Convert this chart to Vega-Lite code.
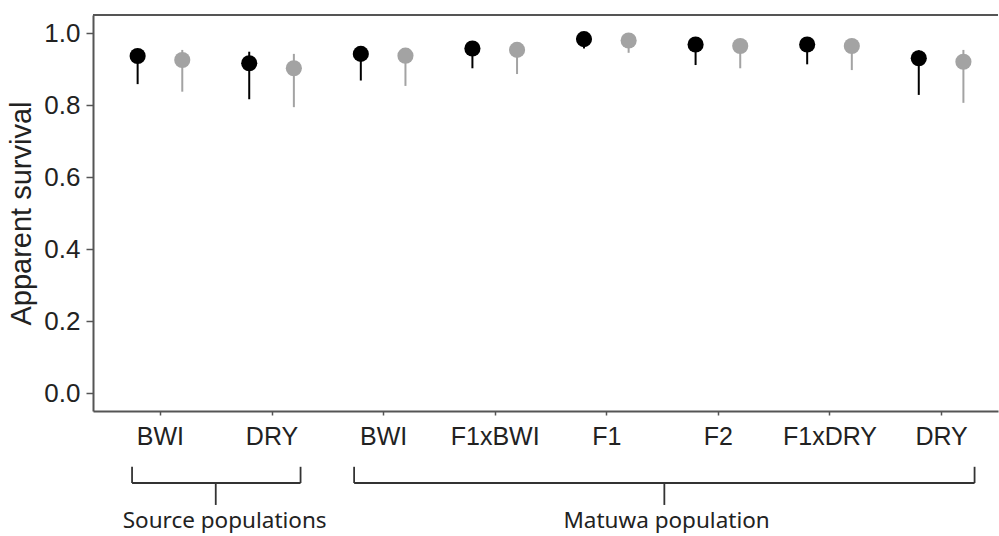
{
  "$schema": "https://vega.github.io/schema/vega-lite/v6.json",
  "width": 905,
  "height": 396,
  "autosize": {"type": "none"},
  "padding": {"left": 93, "top": 15, "right": 1, "bottom": 125},
  "background": "white",
  "config": {
    "view": {"stroke": null},
    "axis": {
      "grid": false,
      "labelFont": "Liberation Sans",
      "titleFont": "Liberation Sans",
      "domainColor": "#555555",
      "tickColor": "#555555",
      "labelColor": "#222222",
      "titleColor": "#222222",
      "domainWidth": 2,
      "tickWidth": 1.5
    }
  },
  "datasets": {
    "pts": [
      {"population": "Source", "group": "BWI", "x": 0.8, "series": "a", "est": 0.936, "lo": 0.858, "hi": 0.952},
      {"population": "Source", "group": "BWI", "x": 1.2, "series": "b", "est": 0.925, "lo": 0.837, "hi": 0.953},
      {"population": "Source", "group": "DRY", "x": 1.8, "series": "a", "est": 0.916, "lo": 0.816, "hi": 0.948},
      {"population": "Source", "group": "DRY", "x": 2.2, "series": "b", "est": 0.902, "lo": 0.794, "hi": 0.942},
      {"population": "Matuwa", "group": "BWI", "x": 2.8, "series": "a", "est": 0.942, "lo": 0.868, "hi": 0.96},
      {"population": "Matuwa", "group": "BWI", "x": 3.2, "series": "b", "est": 0.937, "lo": 0.853, "hi": 0.955},
      {"population": "Matuwa", "group": "F1xBWI", "x": 3.8, "series": "a", "est": 0.957, "lo": 0.902, "hi": 0.972},
      {"population": "Matuwa", "group": "F1xBWI", "x": 4.2, "series": "b", "est": 0.953, "lo": 0.886, "hi": 0.97},
      {"population": "Matuwa", "group": "F1", "x": 4.8, "series": "a", "est": 0.983, "lo": 0.957, "hi": 0.995},
      {"population": "Matuwa", "group": "F1", "x": 5.2, "series": "b", "est": 0.979, "lo": 0.945, "hi": 0.993},
      {"population": "Matuwa", "group": "F2", "x": 5.8, "series": "a", "est": 0.968, "lo": 0.911, "hi": 0.982},
      {"population": "Matuwa", "group": "F2", "x": 6.2, "series": "b", "est": 0.964, "lo": 0.902, "hi": 0.98},
      {"population": "Matuwa", "group": "F1xDRY", "x": 6.8, "series": "a", "est": 0.968, "lo": 0.913, "hi": 0.982},
      {"population": "Matuwa", "group": "F1xDRY", "x": 7.2, "series": "b", "est": 0.964, "lo": 0.897, "hi": 0.98},
      {"population": "Matuwa", "group": "DRY", "x": 7.8, "series": "a", "est": 0.93, "lo": 0.828, "hi": 0.952},
      {"population": "Matuwa", "group": "DRY", "x": 8.2, "series": "b", "est": 0.92, "lo": 0.806, "hi": 0.953}
    ],
    "brackets": [
      {"x": 0.75, "x2": 0.75, "y": -0.205, "y2": -0.25},
      {"x": 2.26, "x2": 2.26, "y": -0.205, "y2": -0.25},
      {"x": 0.75, "x2": 2.26, "y": -0.25, "y2": -0.25},
      {"x": 1.5, "x2": 1.5, "y": -0.25, "y2": -0.311},
      {"x": 2.74, "x2": 2.74, "y": -0.205, "y2": -0.25},
      {"x": 8.3, "x2": 8.3, "y": -0.205, "y2": -0.25},
      {"x": 2.74, "x2": 8.3, "y": -0.25, "y2": -0.25},
      {"x": 5.52, "x2": 5.52, "y": -0.25, "y2": -0.311}
    ],
    "labels": [
      {"x": 1.58, "y": -0.376, "text": "Source populations"},
      {"x": 5.54, "y": -0.376, "text": "Matuwa population"}
    ]
  },
  "layer": [
    {
      "data": {"name": "pts"},
      "mark": {"type": "rule", "strokeWidth": 2},
      "encoding": {
        "x": {
          "field": "x", "type": "quantitative",
          "scale": {"domain": [0.4, 8.51], "nice": false, "zero": false},
          "axis": {
            "title": null,
            "values": [1, 2, 3, 4, 5, 6, 7, 8],
            "labelExpr": "['BWI','DRY','BWI','F1xBWI','F1','F2','F1xDRY','DRY'][datum.value-1]",
            "tickSize": 4,
            "labelPadding": 9,
            "labelFontSize": 25,
            "labelFlush": false,
            "labelOverlap": false
          }
        },
        "y": {
          "field": "lo", "type": "quantitative",
          "scale": {"domain": [-0.05, 1.05], "nice": false, "zero": false},
          "axis": {
            "title": "Apparent survival",
            "values": [0, 0.2, 0.4, 0.6, 0.8, 1],
            "format": ".1f",
            "tickSize": 7,
            "labelPadding": 6,
            "labelFontSize": 26,
            "titleFontSize": 29,
            "titleFontWeight": "normal",
            "titlePadding": 7,
            "labelFlush": false,
            "labelOverlap": false
          }
        },
        "y2": {"field": "hi"},
        "color": {
          "field": "series", "type": "nominal",
          "scale": {"domain": ["a", "b"], "range": ["#000000", "#a3a3a3"]},
          "legend": null
        }
      }
    },
    {
      "data": {"name": "pts"},
      "mark": {"type": "circle", "size": 260, "opacity": 1},
      "encoding": {
        "x": {"field": "x", "type": "quantitative"},
        "y": {"field": "est", "type": "quantitative"},
        "color": {"field": "series", "type": "nominal", "legend": null}
      }
    },
    {
      "data": {"name": "brackets"},
      "mark": {"type": "rule", "color": "#333333", "strokeWidth": 1.8},
      "encoding": {
        "x": {"field": "x", "type": "quantitative"},
        "x2": {"field": "x2"},
        "y": {"field": "y", "type": "quantitative"},
        "y2": {"field": "y2"}
      }
    },
    {
      "data": {"name": "labels"},
      "mark": {"type": "text", "font": "Noto Sans", "fontSize": 22.5, "align": "center", "baseline": "alphabetic", "color": "#222222"},
      "encoding": {
        "x": {"field": "x", "type": "quantitative"},
        "y": {"field": "y", "type": "quantitative"},
        "text": {"field": "text"}
      }
    },
    {
      "data": {"values": [{}]},
      "mark": {"type": "rule", "color": "#555555", "strokeWidth": 2},
      "encoding": {
        "x": {"datum": 0.4, "type": "quantitative"},
        "x2": {"datum": 8.51},
        "y": {"datum": 1.05, "type": "quantitative"}
      }
    }
  ]
}
